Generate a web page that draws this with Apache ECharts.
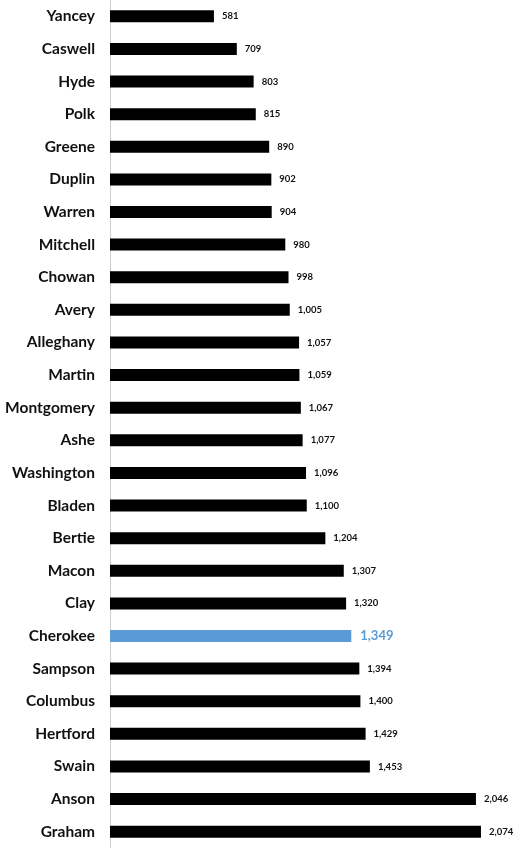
<!DOCTYPE html>
<html><head><meta charset="utf-8">
<script src="https://cdn.jsdelivr.net/npm/echarts@6/dist/echarts.min.js"></script>
<style>html,body{margin:0;padding:0;background:#fff}#c{width:515px;height:848px}</style>
</head><body><div id="c"></div>
<script>
const counties = ["Yancey","Caswell","Hyde","Polk","Greene","Duplin","Warren","Mitchell","Chowan","Avery","Alleghany","Martin","Montgomery","Ashe","Washington","Bladen","Bertie","Macon","Clay","Cherokee","Sampson","Columbus","Hertford","Swain","Anson","Graham"];
const values = [581,709,803,815,890,902,904,980,998,1005,1057,1059,1067,1077,1096,1100,1204,1307,1320,1349,1394,1400,1429,1453,2046,2074];
const highlight = "Cherokee";

const chart = echarts.init(document.getElementById('c'), null, {renderer:'canvas'});
const fmt = v => v.toLocaleString('en-US');
const data = values.map((v,i) => {
  const hi = counties[i] === highlight;
  return {
    value: v,
    itemStyle: {color: hi ? '#5B9BD5' : '#000000'},
    label: hi ? {fontSize: 13, color: '#5B9BD5', distance: 9} : {fontSize: 9.5, color: '#111111', distance: 8}
  };
});
chart.setOption({
  animation: false,
  grid: {left: 110, width: 393.5, top: -1.4, height: 852.8, containLabel: false},
  xAxis: {type: 'value', min: 0, max: 2200, show: false},
  yAxis: {
    type: 'category', data: counties, inverse: true,
    axisLine: {show: true, lineStyle: {color: '#d0d0d0', width: 1}},
    axisTick: {show: false},
    axisLabel: {fontFamily: 'Lato', fontWeight: 'bold', fontSize: 15.5, color: '#111111', margin: 15}
  },
  series: [{
    type: 'bar', data: data, barWidth: 12,
    label: {show: true, position: 'right', fontFamily: 'Lato', fontWeight: 'bold', formatter: p => fmt(p.value)}
  }]
});
</script></body></html>
